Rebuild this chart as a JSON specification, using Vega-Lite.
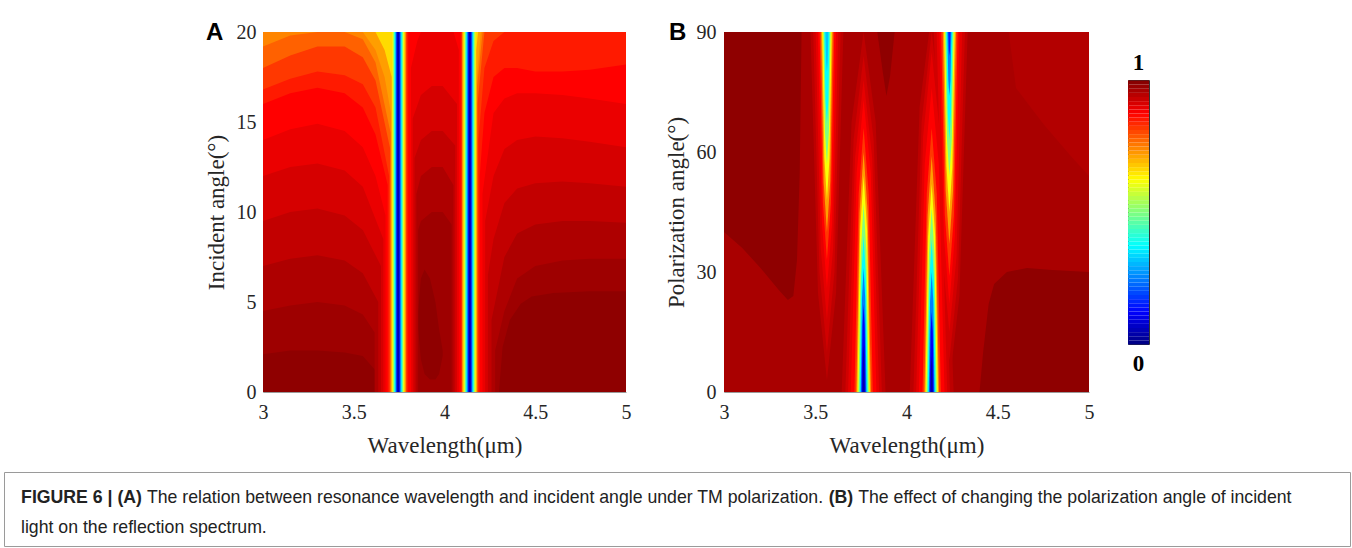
{
"$schema":"https://vega.github.io/schema/vega-lite/v6.json",
"background":"white",
"padding":{"left":3,"top":21,"right":3,"bottom":2},
"config":{"view":{"stroke":null},"font":"Liberation Serif",
"axis":{"labelFont":"Liberation Serif","titleFont":"Liberation Serif","labelFontSize":20,"titleFontSize":23,"titleFontWeight":"normal","labelColor":"#262626","titleColor":"#262626","ticks":false,"grid":false,"domainColor":"#9a9a9a","domainWidth":1,"labelFlush":false,"labelOverlap":false,"zindex":1}},
"datasets":{
"A":[
{"g":"a00","v":0.985,"x":3,"y":0,"y2":20},{"g":"a00","v":0.985,"x":5,"y":0,"y2":20},
{"g":"a01","v":0.97,"x":3,"y":2.1,"y2":20},{"g":"a01","v":0.97,"x":3.15,"y":2.3,"y2":20},{"g":"a01","v":0.97,"x":3.3,"y":2.3,"y2":20},{"g":"a01","v":0.97,"x":3.45,"y":2.2,"y2":20},{"g":"a01","v":0.97,"x":3.55,"y":2,"y2":20},{"g":"a01","v":0.97,"x":3.62,"y":1.2,"y2":20},{"g":"a01","v":0.97,"x":3.68,"y":0.3,"y2":20},{"g":"a01","v":0.97,"x":3.7,"y":0,"y2":20},{"g":"a01","v":0.97,"x":4.3,"y":0,"y2":20},{"g":"a01","v":0.97,"x":4.32,"y":2.5,"y2":20},{"g":"a01","v":0.97,"x":4.36,"y":4,"y2":20},{"g":"a01","v":0.97,"x":4.42,"y":4.9,"y2":20},{"g":"a01","v":0.97,"x":4.48,"y":5.3,"y2":20},{"g":"a01","v":0.97,"x":4.6,"y":5.5,"y2":20},{"g":"a01","v":0.97,"x":4.8,"y":5.6,"y2":20},{"g":"a01","v":0.97,"x":5,"y":5.6,"y2":20},
{"g":"a02","v":0.985,"x":3.855,"y":3.5,"y2":4.5},{"g":"a02","v":0.985,"x":3.87,"y":1.8,"y2":6.3},{"g":"a02","v":0.985,"x":3.89,"y":1,"y2":6.8},{"g":"a02","v":0.985,"x":3.92,"y":0.7,"y2":6.3},{"g":"a02","v":0.985,"x":3.95,"y":0.7,"y2":5},{"g":"a02","v":0.985,"x":3.97,"y":1,"y2":3.5},{"g":"a02","v":0.985,"x":3.99,"y":2,"y2":2.3},
{"g":"a03","v":0.955,"x":3,"y":4.5,"y2":20},{"g":"a03","v":0.955,"x":3.15,"y":4.8,"y2":20},{"g":"a03","v":0.955,"x":3.3,"y":5,"y2":20},{"g":"a03","v":0.955,"x":3.45,"y":4.8,"y2":20},{"g":"a03","v":0.955,"x":3.55,"y":4.3,"y2":20},{"g":"a03","v":0.955,"x":3.615,"y":3.3,"y2":20},{"g":"a03","v":0.955,"x":3.615,"y":0,"y2":20},{"g":"a03","v":0.955,"x":3.855,"y":0,"y2":20},{"g":"a03","v":0.955,"x":3.855,"y":9,"y2":20},{"g":"a03","v":0.955,"x":3.87,"y":9.5,"y2":20},{"g":"a03","v":0.955,"x":3.93,"y":10,"y2":20},{"g":"a03","v":0.955,"x":3.99,"y":10,"y2":20},{"g":"a03","v":0.955,"x":4.039,"y":9.3,"y2":20},{"g":"a03","v":0.955,"x":4.039,"y":0,"y2":20},{"g":"a03","v":0.955,"x":4.279,"y":0,"y2":20},{"g":"a03","v":0.955,"x":4.279,"y":2.3,"y2":20},{"g":"a03","v":0.955,"x":4.33,"y":4.5,"y2":20},{"g":"a03","v":0.955,"x":4.4,"y":6.3,"y2":20},{"g":"a03","v":0.955,"x":4.5,"y":7,"y2":20},{"g":"a03","v":0.955,"x":4.65,"y":7.3,"y2":20},{"g":"a03","v":0.955,"x":4.8,"y":7.4,"y2":20},{"g":"a03","v":0.955,"x":5,"y":7.4,"y2":20},
{"g":"a04","v":0.935,"x":3,"y":7,"y2":20},{"g":"a04","v":0.935,"x":3.15,"y":7.4,"y2":20},{"g":"a04","v":0.935,"x":3.3,"y":7.6,"y2":20},{"g":"a04","v":0.935,"x":3.45,"y":7.3,"y2":20},{"g":"a04","v":0.935,"x":3.55,"y":6.6,"y2":20},{"g":"a04","v":0.935,"x":3.635,"y":5,"y2":20},{"g":"a04","v":0.935,"x":3.635,"y":0,"y2":20},{"g":"a04","v":0.935,"x":3.845,"y":0,"y2":20},{"g":"a04","v":0.935,"x":3.845,"y":11,"y2":20},{"g":"a04","v":0.935,"x":3.87,"y":12,"y2":20},{"g":"a04","v":0.935,"x":3.93,"y":12.5,"y2":20},{"g":"a04","v":0.935,"x":3.99,"y":12.5,"y2":20},{"g":"a04","v":0.935,"x":4.049,"y":11.5,"y2":20},{"g":"a04","v":0.935,"x":4.049,"y":0,"y2":20},{"g":"a04","v":0.935,"x":4.259,"y":0,"y2":20},{"g":"a04","v":0.935,"x":4.259,"y":4,"y2":20},{"g":"a04","v":0.935,"x":4.33,"y":7.5,"y2":20},{"g":"a04","v":0.935,"x":4.4,"y":8.8,"y2":20},{"g":"a04","v":0.935,"x":4.5,"y":9.3,"y2":20},{"g":"a04","v":0.935,"x":4.65,"y":9.5,"y2":20},{"g":"a04","v":0.935,"x":4.8,"y":9.5,"y2":20},{"g":"a04","v":0.935,"x":5,"y":9.4,"y2":20},
{"g":"a05","v":0.915,"x":3,"y":9.5,"y2":20},{"g":"a05","v":0.915,"x":3.15,"y":10,"y2":20},{"g":"a05","v":0.915,"x":3.3,"y":10.2,"y2":20},{"g":"a05","v":0.915,"x":3.45,"y":9.8,"y2":20},{"g":"a05","v":0.915,"x":3.55,"y":9,"y2":20},{"g":"a05","v":0.915,"x":3.65,"y":7,"y2":20},{"g":"a05","v":0.915,"x":3.65,"y":0,"y2":20},{"g":"a05","v":0.915,"x":3.835,"y":0,"y2":20},{"g":"a05","v":0.915,"x":3.835,"y":13,"y2":20},{"g":"a05","v":0.915,"x":3.87,"y":14,"y2":20},{"g":"a05","v":0.915,"x":3.93,"y":14.5,"y2":20},{"g":"a05","v":0.915,"x":3.99,"y":14.5,"y2":20},{"g":"a05","v":0.915,"x":4.059,"y":13.7,"y2":20},{"g":"a05","v":0.915,"x":4.059,"y":0,"y2":20},{"g":"a05","v":0.915,"x":4.239,"y":0,"y2":20},{"g":"a05","v":0.915,"x":4.239,"y":6.5,"y2":20},{"g":"a05","v":0.915,"x":4.27,"y":8.5,"y2":20},{"g":"a05","v":0.915,"x":4.33,"y":10.5,"y2":20},{"g":"a05","v":0.915,"x":4.4,"y":11.3,"y2":20},{"g":"a05","v":0.915,"x":4.5,"y":11.6,"y2":20},{"g":"a05","v":0.915,"x":4.65,"y":11.7,"y2":20},{"g":"a05","v":0.915,"x":4.8,"y":11.6,"y2":20},{"g":"a05","v":0.915,"x":5,"y":11.4,"y2":20},
{"g":"a06","v":0.895,"x":3,"y":12,"y2":20},{"g":"a06","v":0.895,"x":3.15,"y":12.5,"y2":20},{"g":"a06","v":0.895,"x":3.3,"y":12.7,"y2":20},{"g":"a06","v":0.895,"x":3.45,"y":12.3,"y2":20},{"g":"a06","v":0.895,"x":3.55,"y":11.4,"y2":20},{"g":"a06","v":0.895,"x":3.663,"y":8.5,"y2":20},{"g":"a06","v":0.895,"x":3.663,"y":0,"y2":20},{"g":"a06","v":0.895,"x":3.825,"y":0,"y2":20},{"g":"a06","v":0.895,"x":3.825,"y":15.2,"y2":20},{"g":"a06","v":0.895,"x":3.87,"y":16.5,"y2":20},{"g":"a06","v":0.895,"x":3.93,"y":17,"y2":20},{"g":"a06","v":0.895,"x":3.99,"y":17,"y2":20},{"g":"a06","v":0.895,"x":4.069,"y":16,"y2":20},{"g":"a06","v":0.895,"x":4.069,"y":0,"y2":20},{"g":"a06","v":0.895,"x":4.224,"y":0,"y2":20},{"g":"a06","v":0.895,"x":4.224,"y":9.5,"y2":20},{"g":"a06","v":0.895,"x":4.27,"y":12,"y2":20},{"g":"a06","v":0.895,"x":4.33,"y":13.5,"y2":20},{"g":"a06","v":0.895,"x":4.4,"y":14,"y2":20},{"g":"a06","v":0.895,"x":4.5,"y":14.2,"y2":20},{"g":"a06","v":0.895,"x":4.65,"y":14.1,"y2":20},{"g":"a06","v":0.895,"x":4.8,"y":13.9,"y2":20},{"g":"a06","v":0.895,"x":5,"y":13.6,"y2":20},
{"g":"a07","v":0.875,"x":3,"y":14,"y2":20},{"g":"a07","v":0.875,"x":3.15,"y":14.6,"y2":20},{"g":"a07","v":0.875,"x":3.3,"y":14.9,"y2":20},{"g":"a07","v":0.875,"x":3.45,"y":14.5,"y2":20},{"g":"a07","v":0.875,"x":3.55,"y":13.6,"y2":20},{"g":"a07","v":0.875,"x":3.62,"y":12,"y2":20},{"g":"a07","v":0.875,"x":3.675,"y":9.8,"y2":20},{"g":"a07","v":0.875,"x":3.675,"y":0,"y2":20},{"g":"a07","v":0.875,"x":3.815,"y":0,"y2":20},{"g":"a07","v":0.875,"x":3.815,"y":18,"y2":20},{"g":"a07","v":0.875,"x":3.85,"y":19.5,"y2":20},{"g":"a07","v":0.875,"x":3.87,"y":20,"y2":20},{"g":"a07","v":0.875,"x":4.05,"y":20,"y2":20},{"g":"a07","v":0.875,"x":4.079,"y":19,"y2":20},{"g":"a07","v":0.875,"x":4.079,"y":0,"y2":20},{"g":"a07","v":0.875,"x":4.209,"y":0,"y2":20},{"g":"a07","v":0.875,"x":4.209,"y":11,"y2":20},{"g":"a07","v":0.875,"x":4.27,"y":15.5,"y2":20},{"g":"a07","v":0.875,"x":4.33,"y":16.3,"y2":20},{"g":"a07","v":0.875,"x":4.4,"y":16.6,"y2":20},{"g":"a07","v":0.875,"x":4.5,"y":16.6,"y2":20},{"g":"a07","v":0.875,"x":4.65,"y":16.5,"y2":20},{"g":"a07","v":0.875,"x":4.8,"y":16.3,"y2":20},{"g":"a07","v":0.875,"x":5,"y":16,"y2":20},
{"g":"a08","v":0.85,"x":3,"y":16,"y2":20},{"g":"a08","v":0.85,"x":3.15,"y":16.6,"y2":20},{"g":"a08","v":0.85,"x":3.3,"y":16.9,"y2":20},{"g":"a08","v":0.85,"x":3.45,"y":16.6,"y2":20},{"g":"a08","v":0.85,"x":3.55,"y":15.8,"y2":20},{"g":"a08","v":0.85,"x":3.62,"y":14.3,"y2":20},{"g":"a08","v":0.85,"x":3.687,"y":11.5,"y2":20},{"g":"a08","v":0.85,"x":3.687,"y":0,"y2":20},{"g":"a08","v":0.85,"x":3.8,"y":0,"y2":20},{"g":"a08","v":0.85,"x":3.8,"y":20,"y2":20},{"g":"a08","v":0.85,"x":4.089,"y":20,"y2":20},{"g":"a08","v":0.85,"x":4.089,"y":0,"y2":20},{"g":"a08","v":0.85,"x":4.194,"y":0,"y2":20},{"g":"a08","v":0.85,"x":4.194,"y":12,"y2":20},{"g":"a08","v":0.85,"x":4.22,"y":15.5,"y2":20},{"g":"a08","v":0.85,"x":4.27,"y":17.5,"y2":20},{"g":"a08","v":0.85,"x":4.33,"y":18,"y2":20},{"g":"a08","v":0.85,"x":4.4,"y":18,"y2":20},{"g":"a08","v":0.85,"x":4.5,"y":17.8,"y2":20},{"g":"a08","v":0.85,"x":4.65,"y":17.8,"y2":20},{"g":"a08","v":0.85,"x":4.8,"y":17.9,"y2":20},{"g":"a08","v":0.85,"x":5,"y":18.2,"y2":20},
{"g":"a09","v":0.82,"x":3,"y":16.8,"y2":20},{"g":"a09","v":0.82,"x":3.15,"y":17.4,"y2":20},{"g":"a09","v":0.82,"x":3.3,"y":17.8,"y2":20},{"g":"a09","v":0.82,"x":3.45,"y":17.6,"y2":20},{"g":"a09","v":0.82,"x":3.55,"y":17.1,"y2":20},{"g":"a09","v":0.82,"x":3.62,"y":15.8,"y2":20},{"g":"a09","v":0.82,"x":3.695,"y":12,"y2":20},{"g":"a09","v":0.82,"x":3.695,"y":0,"y2":20},{"g":"a09","v":0.82,"x":3.792,"y":0,"y2":20},{"g":"a09","v":0.82,"x":3.792,"y":20,"y2":20},{"g":"a09","v":0.82,"x":4.094,"y":20,"y2":20},{"g":"a09","v":0.82,"x":4.094,"y":0,"y2":20},{"g":"a09","v":0.82,"x":4.187,"y":0,"y2":20},{"g":"a09","v":0.82,"x":4.187,"y":14,"y2":20},{"g":"a09","v":0.82,"x":4.22,"y":18,"y2":20},{"g":"a09","v":0.82,"x":4.27,"y":19.5,"y2":20},{"g":"a09","v":0.82,"x":4.33,"y":20,"y2":20},{"g":"a09","v":0.82,"x":5,"y":20,"y2":20},
{"g":"a10","v":0.78,"x":3,"y":18,"y2":20},{"g":"a10","v":0.78,"x":3.15,"y":18.7,"y2":20},{"g":"a10","v":0.78,"x":3.3,"y":19.2,"y2":20},{"g":"a10","v":0.78,"x":3.45,"y":19.2,"y2":20},{"g":"a10","v":0.78,"x":3.55,"y":18.6,"y2":20},{"g":"a10","v":0.78,"x":3.62,"y":17.3,"y2":20},{"g":"a10","v":0.78,"x":3.701,"y":13.5,"y2":20},{"g":"a10","v":0.78,"x":3.701,"y":0,"y2":20},{"g":"a10","v":0.78,"x":3.789,"y":0,"y2":20},{"g":"a10","v":0.78,"x":3.789,"y":20,"y2":20},{"g":"a10","v":0.78,"x":4.096,"y":20,"y2":20},{"g":"a10","v":0.78,"x":4.096,"y":0,"y2":20},{"g":"a10","v":0.78,"x":4.182,"y":0,"y2":20},{"g":"a10","v":0.78,"x":4.182,"y":16,"y2":20},{"g":"a10","v":0.78,"x":4.22,"y":20,"y2":20},{"g":"a10","v":0.78,"x":5,"y":20,"y2":20},
{"g":"a10b","v":0.745,"x":3,"y":19.2,"y2":20},{"g":"a10b","v":0.745,"x":3.15,"y":19.8,"y2":20},{"g":"a10b","v":0.745,"x":3.3,"y":20,"y2":20},{"g":"a10b","v":0.745,"x":3.45,"y":20,"y2":20},{"g":"a10b","v":0.745,"x":3.55,"y":19.6,"y2":20},{"g":"a10b","v":0.745,"x":3.62,"y":18.3,"y2":20},{"g":"a10b","v":0.745,"x":3.703,"y":14.4,"y2":20},{"g":"a10b","v":0.745,"x":3.703,"y":0,"y2":20},{"g":"a10b","v":0.745,"x":3.787,"y":0,"y2":20},{"g":"a10b","v":0.745,"x":3.787,"y":20,"y2":20},{"g":"a10b","v":0.745,"x":4.098,"y":20,"y2":20},{"g":"a10b","v":0.745,"x":4.098,"y":0,"y2":20},{"g":"a10b","v":0.745,"x":4.18,"y":0,"y2":20},{"g":"a10b","v":0.745,"x":4.18,"y":17,"y2":20},{"g":"a10b","v":0.745,"x":4.21,"y":20,"y2":20},{"g":"a10b","v":0.745,"x":5,"y":20,"y2":20},
{"g":"a11","v":0.72,"x":3,"y":20,"y2":20},{"g":"a11","v":0.72,"x":3.55,"y":20,"y2":20},{"g":"a11","v":0.72,"x":3.62,"y":19,"y2":20},{"g":"a11","v":0.72,"x":3.67,"y":17.5,"y2":20},{"g":"a11","v":0.72,"x":3.705,"y":15.5,"y2":20},{"g":"a11","v":0.72,"x":3.705,"y":0,"y2":20},{"g":"a11","v":0.72,"x":3.785,"y":0,"y2":20},{"g":"a11","v":0.72,"x":3.785,"y":20,"y2":20},{"g":"a11","v":0.72,"x":4.099,"y":20,"y2":20},{"g":"a11","v":0.72,"x":4.099,"y":0,"y2":20},{"g":"a11","v":0.72,"x":4.179,"y":0,"y2":20},{"g":"a11","v":0.72,"x":4.179,"y":17.5,"y2":20},{"g":"a11","v":0.72,"x":4.2,"y":20,"y2":20},{"g":"a11","v":0.72,"x":5,"y":20,"y2":20},
{"g":"a12","v":0.66,"x":3,"y":20,"y2":20},{"g":"a12","v":0.66,"x":3.62,"y":20,"y2":20},{"g":"a12","v":0.66,"x":3.67,"y":19,"y2":20},{"g":"a12","v":0.66,"x":3.709,"y":17.5,"y2":20},{"g":"a12","v":0.66,"x":3.709,"y":0,"y2":20},{"g":"a12","v":0.66,"x":3.781,"y":0,"y2":20},{"g":"a12","v":0.66,"x":3.781,"y":20,"y2":20},{"g":"a12","v":0.66,"x":4.103,"y":20,"y2":20},{"g":"a12","v":0.66,"x":4.103,"y":0,"y2":20},{"g":"a12","v":0.66,"x":4.175,"y":0,"y2":20},{"g":"a12","v":0.66,"x":4.175,"y":19,"y2":20},{"g":"a12","v":0.66,"x":4.185,"y":20,"y2":20},{"g":"a12","v":0.66,"x":5,"y":20,"y2":20},
{"g":"a13","v":0.6,"x":3.713,"y":0,"y2":20},{"g":"a13","v":0.6,"x":3.777,"y":0,"y2":20},
{"g":"a14","v":0.6,"x":4.107,"y":0,"y2":20},{"g":"a14","v":0.6,"x":4.171,"y":0,"y2":20},
{"g":"a15","v":0.5,"x":3.718,"y":0,"y2":20},{"g":"a15","v":0.5,"x":3.772,"y":0,"y2":20},
{"g":"a16","v":0.5,"x":4.112,"y":0,"y2":20},{"g":"a16","v":0.5,"x":4.166,"y":0,"y2":20},
{"g":"a17","v":0.4,"x":3.723,"y":0,"y2":20},{"g":"a17","v":0.4,"x":3.767,"y":0,"y2":20},
{"g":"a18","v":0.4,"x":4.117,"y":0,"y2":20},{"g":"a18","v":0.4,"x":4.161,"y":0,"y2":20},
{"g":"a19","v":0.3,"x":3.728,"y":0,"y2":20},{"g":"a19","v":0.3,"x":3.762,"y":0,"y2":20},
{"g":"a20","v":0.3,"x":4.122,"y":0,"y2":20},{"g":"a20","v":0.3,"x":4.156,"y":0,"y2":20},
{"g":"a21","v":0.2,"x":3.733,"y":0,"y2":20},{"g":"a21","v":0.2,"x":3.757,"y":0,"y2":20},
{"g":"a22","v":0.2,"x":4.127,"y":0,"y2":20},{"g":"a22","v":0.2,"x":4.151,"y":0,"y2":20},
{"g":"a23","v":0.1,"x":3.737,"y":0,"y2":20},{"g":"a23","v":0.1,"x":3.753,"y":0,"y2":20},
{"g":"a24","v":0.1,"x":4.131,"y":0,"y2":20},{"g":"a24","v":0.1,"x":4.147,"y":0,"y2":20},
{"g":"a25","v":0.04,"x":3.741,"y":0,"y2":20},{"g":"a25","v":0.04,"x":3.749,"y":0,"y2":20},
{"g":"a26","v":0.04,"x":4.135,"y":0,"y2":20},{"g":"a26","v":0.04,"x":4.143,"y":0,"y2":20}
],
"B":[
{"g":"b00","v":0.96,"x":3,"y":0,"y2":90},{"g":"b00","v":0.96,"x":5,"y":0,"y2":90},
{"g":"b01","v":0.985,"x":3,"y":40,"y2":90},{"g":"b01","v":0.985,"x":3.1,"y":36,"y2":90},{"g":"b01","v":0.985,"x":3.2,"y":31,"y2":90},{"g":"b01","v":0.985,"x":3.3,"y":25.5,"y2":90},{"g":"b01","v":0.985,"x":3.35,"y":23,"y2":90},{"g":"b01","v":0.985,"x":3.38,"y":24,"y2":90},{"g":"b01","v":0.985,"x":3.4,"y":33,"y2":90},{"g":"b01","v":0.985,"x":3.415,"y":55,"y2":90},{"g":"b01","v":0.985,"x":3.425,"y":90,"y2":90},
{"g":"b02","v":0.985,"x":4.4,"y":0,"y2":0},{"g":"b02","v":0.985,"x":4.42,"y":0,"y2":10},{"g":"b02","v":0.985,"x":4.45,"y":0,"y2":22},{"g":"b02","v":0.985,"x":4.48,"y":0,"y2":27},{"g":"b02","v":0.985,"x":4.55,"y":0,"y2":30},{"g":"b02","v":0.985,"x":4.66,"y":0,"y2":31},{"g":"b02","v":0.985,"x":4.8,"y":0,"y2":30.5},{"g":"b02","v":0.985,"x":5,"y":0,"y2":30},
{"g":"b03","v":0.985,"x":3.84,"y":90,"y2":90},{"g":"b03","v":0.985,"x":3.87,"y":80,"y2":90},{"g":"b03","v":0.985,"x":3.89,"y":74,"y2":90},{"g":"b03","v":0.985,"x":3.91,"y":79,"y2":90},{"g":"b03","v":0.985,"x":3.935,"y":90,"y2":90},
{"g":"b04","v":0.95,"x":4.56,"y":90,"y2":90},{"g":"b04","v":0.95,"x":4.6,"y":76,"y2":90},{"g":"b04","v":0.95,"x":4.75,"y":67,"y2":90},{"g":"b04","v":0.95,"x":4.9,"y":59,"y2":90},{"g":"b04","v":0.95,"x":5,"y":54,"y2":90},
{"g":"b05","v":0.94,"x":3.645,"y":0,"y2":0},{"g":"b05","v":0.94,"x":3.699,"y":0,"y2":67.5},{"g":"b05","v":0.94,"x":3.765,"y":0,"y2":90},{"g":"b05","v":0.94,"x":3.831,"y":0,"y2":67.5},{"g":"b05","v":0.94,"x":3.885,"y":0,"y2":0},
{"g":"b06","v":0.94,"x":3.474,"y":90,"y2":90},{"g":"b06","v":0.94,"x":3.515,"y":24.8,"y2":90},{"g":"b06","v":0.94,"x":3.564,"y":3,"y2":90},{"g":"b06","v":0.94,"x":3.614,"y":24.8,"y2":90},{"g":"b06","v":0.94,"x":3.654,"y":90,"y2":90},
{"g":"b07","v":0.94,"x":4.018,"y":0,"y2":0},{"g":"b07","v":0.94,"x":4.072,"y":0,"y2":71.3},{"g":"b07","v":0.94,"x":4.138,"y":0,"y2":95},{"g":"b07","v":0.94,"x":4.204,"y":0,"y2":71.3},{"g":"b07","v":0.94,"x":4.258,"y":0,"y2":0},
{"g":"b08","v":0.94,"x":4.135,"y":90,"y2":90},{"g":"b08","v":0.94,"x":4.18,"y":24,"y2":90},{"g":"b08","v":0.94,"x":4.235,"y":2,"y2":90},{"g":"b08","v":0.94,"x":4.29,"y":24,"y2":90},{"g":"b08","v":0.94,"x":4.335,"y":90,"y2":90},
{"g":"b09","v":0.92,"x":3.665,"y":0,"y2":0},{"g":"b09","v":0.92,"x":3.71,"y":0,"y2":63},{"g":"b09","v":0.92,"x":3.765,"y":0,"y2":84},{"g":"b09","v":0.92,"x":3.82,"y":0,"y2":63},{"g":"b09","v":0.92,"x":3.865,"y":0,"y2":0},
{"g":"b10","v":0.92,"x":3.489,"y":90,"y2":90},{"g":"b10","v":0.92,"x":3.523,"y":30,"y2":90},{"g":"b10","v":0.92,"x":3.564,"y":10,"y2":90},{"g":"b10","v":0.92,"x":3.605,"y":30,"y2":90},{"g":"b10","v":0.92,"x":3.639,"y":90,"y2":90},
{"g":"b11","v":0.92,"x":4.038,"y":0,"y2":0},{"g":"b11","v":0.92,"x":4.083,"y":0,"y2":67.5},{"g":"b11","v":0.92,"x":4.138,"y":0,"y2":90},{"g":"b11","v":0.92,"x":4.193,"y":0,"y2":67.5},{"g":"b11","v":0.92,"x":4.238,"y":0,"y2":0},
{"g":"b12","v":0.92,"x":4.15,"y":90,"y2":90},{"g":"b12","v":0.92,"x":4.188,"y":28.5,"y2":90},{"g":"b12","v":0.92,"x":4.235,"y":8,"y2":90},{"g":"b12","v":0.92,"x":4.282,"y":28.5,"y2":90},{"g":"b12","v":0.92,"x":4.32,"y":90,"y2":90},
{"g":"b13","v":0.9,"x":3.68,"y":0,"y2":0},{"g":"b13","v":0.9,"x":3.718,"y":0,"y2":58.5},{"g":"b13","v":0.9,"x":3.765,"y":0,"y2":78},{"g":"b13","v":0.9,"x":3.812,"y":0,"y2":58.5},{"g":"b13","v":0.9,"x":3.85,"y":0,"y2":0},
{"g":"b14","v":0.9,"x":3.502,"y":90,"y2":90},{"g":"b14","v":0.9,"x":3.53,"y":36,"y2":90},{"g":"b14","v":0.9,"x":3.564,"y":18,"y2":90},{"g":"b14","v":0.9,"x":3.598,"y":36,"y2":90},{"g":"b14","v":0.9,"x":3.626,"y":90,"y2":90},
{"g":"b15","v":0.9,"x":4.053,"y":0,"y2":0},{"g":"b15","v":0.9,"x":4.091,"y":0,"y2":63.8},{"g":"b15","v":0.9,"x":4.138,"y":0,"y2":85},{"g":"b15","v":0.9,"x":4.185,"y":0,"y2":63.8},{"g":"b15","v":0.9,"x":4.223,"y":0,"y2":0},
{"g":"b16","v":0.9,"x":4.165,"y":90,"y2":90},{"g":"b16","v":0.9,"x":4.197,"y":33.8,"y2":90},{"g":"b16","v":0.9,"x":4.235,"y":15,"y2":90},{"g":"b16","v":0.9,"x":4.274,"y":33.8,"y2":90},{"g":"b16","v":0.9,"x":4.305,"y":90,"y2":90},
{"g":"b17","v":0.875,"x":3.695,"y":0,"y2":0},{"g":"b17","v":0.875,"x":3.727,"y":0,"y2":54.8},{"g":"b17","v":0.875,"x":3.765,"y":0,"y2":73},{"g":"b17","v":0.875,"x":3.804,"y":0,"y2":54.8},{"g":"b17","v":0.875,"x":3.835,"y":0,"y2":0},
{"g":"b18","v":0.875,"x":3.514,"y":90,"y2":90},{"g":"b18","v":0.875,"x":3.537,"y":42,"y2":90},{"g":"b18","v":0.875,"x":3.564,"y":26,"y2":90},{"g":"b18","v":0.875,"x":3.592,"y":42,"y2":90},{"g":"b18","v":0.875,"x":3.614,"y":90,"y2":90},
{"g":"b19","v":0.875,"x":4.068,"y":0,"y2":0},{"g":"b19","v":0.875,"x":4.1,"y":0,"y2":57},{"g":"b19","v":0.875,"x":4.138,"y":0,"y2":76},{"g":"b19","v":0.875,"x":4.177,"y":0,"y2":57},{"g":"b19","v":0.875,"x":4.208,"y":0,"y2":0},
{"g":"b20","v":0.875,"x":4.18,"y":90,"y2":90},{"g":"b20","v":0.875,"x":4.205,"y":39,"y2":90},{"g":"b20","v":0.875,"x":4.235,"y":22,"y2":90},{"g":"b20","v":0.875,"x":4.265,"y":39,"y2":90},{"g":"b20","v":0.875,"x":4.29,"y":90,"y2":90},
{"g":"b21","v":0.82,"x":3.715,"y":0,"y2":0},{"g":"b21","v":0.82,"x":3.738,"y":0,"y2":49.5},{"g":"b21","v":0.82,"x":3.765,"y":0,"y2":66},{"g":"b21","v":0.82,"x":3.793,"y":0,"y2":49.5},{"g":"b21","v":0.82,"x":3.815,"y":0,"y2":0},
{"g":"b22","v":0.82,"x":3.524,"y":90,"y2":90},{"g":"b22","v":0.82,"x":3.542,"y":47.3,"y2":90},{"g":"b22","v":0.82,"x":3.564,"y":33,"y2":90},{"g":"b22","v":0.82,"x":3.586,"y":47.3,"y2":90},{"g":"b22","v":0.82,"x":3.604,"y":90,"y2":90},
{"g":"b23","v":0.82,"x":4.088,"y":0,"y2":0},{"g":"b23","v":0.82,"x":4.111,"y":0,"y2":49.5},{"g":"b23","v":0.82,"x":4.138,"y":0,"y2":66},{"g":"b23","v":0.82,"x":4.166,"y":0,"y2":49.5},{"g":"b23","v":0.82,"x":4.188,"y":0,"y2":0},
{"g":"b24","v":0.82,"x":4.19,"y":90,"y2":90},{"g":"b24","v":0.82,"x":4.21,"y":44.3,"y2":90},{"g":"b24","v":0.82,"x":4.235,"y":29,"y2":90},{"g":"b24","v":0.82,"x":4.26,"y":44.3,"y2":90},{"g":"b24","v":0.82,"x":4.28,"y":90,"y2":90},
{"g":"b25","v":0.72,"x":3.725,"y":0,"y2":0},{"g":"b25","v":0.72,"x":3.743,"y":0,"y2":45},{"g":"b25","v":0.72,"x":3.765,"y":0,"y2":60},{"g":"b25","v":0.72,"x":3.787,"y":0,"y2":45},{"g":"b25","v":0.72,"x":3.805,"y":0,"y2":0},
{"g":"b26","v":0.72,"x":3.532,"y":90,"y2":90},{"g":"b26","v":0.72,"x":3.546,"y":52.5,"y2":90},{"g":"b26","v":0.72,"x":3.564,"y":40,"y2":90},{"g":"b26","v":0.72,"x":3.582,"y":52.5,"y2":90},{"g":"b26","v":0.72,"x":3.596,"y":90,"y2":90},
{"g":"b27","v":0.72,"x":4.098,"y":0,"y2":0},{"g":"b27","v":0.72,"x":4.116,"y":0,"y2":44.3},{"g":"b27","v":0.72,"x":4.138,"y":0,"y2":59},{"g":"b27","v":0.72,"x":4.16,"y":0,"y2":44.3},{"g":"b27","v":0.72,"x":4.178,"y":0,"y2":0},
{"g":"b28","v":0.72,"x":4.199,"y":90,"y2":90},{"g":"b28","v":0.72,"x":4.215,"y":50.3,"y2":90},{"g":"b28","v":0.72,"x":4.235,"y":37,"y2":90},{"g":"b28","v":0.72,"x":4.255,"y":50.3,"y2":90},{"g":"b28","v":0.72,"x":4.271,"y":90,"y2":90},
{"g":"b29","v":0.62,"x":3.731,"y":0,"y2":0},{"g":"b29","v":0.62,"x":3.746,"y":0,"y2":40.5},{"g":"b29","v":0.62,"x":3.765,"y":0,"y2":54},{"g":"b29","v":0.62,"x":3.784,"y":0,"y2":40.5},{"g":"b29","v":0.62,"x":3.799,"y":0,"y2":0},
{"g":"b30","v":0.62,"x":3.538,"y":90,"y2":90},{"g":"b30","v":0.62,"x":3.55,"y":58.5,"y2":90},{"g":"b30","v":0.62,"x":3.564,"y":48,"y2":90},{"g":"b30","v":0.62,"x":3.578,"y":58.5,"y2":90},{"g":"b30","v":0.62,"x":3.59,"y":90,"y2":90},
{"g":"b31","v":0.62,"x":4.104,"y":0,"y2":0},{"g":"b31","v":0.62,"x":4.119,"y":0,"y2":39},{"g":"b31","v":0.62,"x":4.138,"y":0,"y2":52},{"g":"b31","v":0.62,"x":4.157,"y":0,"y2":39},{"g":"b31","v":0.62,"x":4.172,"y":0,"y2":0},
{"g":"b32","v":0.62,"x":4.206,"y":90,"y2":90},{"g":"b32","v":0.62,"x":4.219,"y":56.3,"y2":90},{"g":"b32","v":0.62,"x":4.235,"y":45,"y2":90},{"g":"b32","v":0.62,"x":4.251,"y":56.3,"y2":90},{"g":"b32","v":0.62,"x":4.264,"y":90,"y2":90},
{"g":"b33","v":0.5,"x":3.737,"y":0,"y2":0},{"g":"b33","v":0.5,"x":3.75,"y":0,"y2":35.3},{"g":"b33","v":0.5,"x":3.765,"y":0,"y2":47},{"g":"b33","v":0.5,"x":3.78,"y":0,"y2":35.3},{"g":"b33","v":0.5,"x":3.793,"y":0,"y2":0},
{"g":"b34","v":0.5,"x":3.544,"y":90,"y2":90},{"g":"b34","v":0.5,"x":3.553,"y":65.3,"y2":90},{"g":"b34","v":0.5,"x":3.564,"y":57,"y2":90},{"g":"b34","v":0.5,"x":3.575,"y":65.3,"y2":90},{"g":"b34","v":0.5,"x":3.584,"y":90,"y2":90},
{"g":"b35","v":0.5,"x":4.11,"y":0,"y2":0},{"g":"b35","v":0.5,"x":4.123,"y":0,"y2":34.5},{"g":"b35","v":0.5,"x":4.138,"y":0,"y2":46},{"g":"b35","v":0.5,"x":4.153,"y":0,"y2":34.5},{"g":"b35","v":0.5,"x":4.166,"y":0,"y2":0},
{"g":"b36","v":0.5,"x":4.212,"y":90,"y2":90},{"g":"b36","v":0.5,"x":4.222,"y":63,"y2":90},{"g":"b36","v":0.5,"x":4.235,"y":54,"y2":90},{"g":"b36","v":0.5,"x":4.248,"y":63,"y2":90},{"g":"b36","v":0.5,"x":4.258,"y":90,"y2":90},
{"g":"b37","v":0.38,"x":3.743,"y":0,"y2":0},{"g":"b37","v":0.38,"x":3.753,"y":0,"y2":29.3},{"g":"b37","v":0.38,"x":3.765,"y":0,"y2":39},{"g":"b37","v":0.38,"x":3.777,"y":0,"y2":29.3},{"g":"b37","v":0.38,"x":3.787,"y":0,"y2":0},
{"g":"b38","v":0.38,"x":3.55,"y":90,"y2":90},{"g":"b38","v":0.38,"x":3.556,"y":72.8,"y2":90},{"g":"b38","v":0.38,"x":3.564,"y":67,"y2":90},{"g":"b38","v":0.38,"x":3.572,"y":72.8,"y2":90},{"g":"b38","v":0.38,"x":3.578,"y":90,"y2":90},
{"g":"b39","v":0.38,"x":4.116,"y":0,"y2":0},{"g":"b39","v":0.38,"x":4.126,"y":0,"y2":28.5},{"g":"b39","v":0.38,"x":4.138,"y":0,"y2":38},{"g":"b39","v":0.38,"x":4.15,"y":0,"y2":28.5},{"g":"b39","v":0.38,"x":4.16,"y":0,"y2":0},
{"g":"b40","v":0.38,"x":4.218,"y":90,"y2":90},{"g":"b40","v":0.38,"x":4.226,"y":69.8,"y2":90},{"g":"b40","v":0.38,"x":4.235,"y":63,"y2":90},{"g":"b40","v":0.38,"x":4.244,"y":69.8,"y2":90},{"g":"b40","v":0.38,"x":4.252,"y":90,"y2":90},
{"g":"b41","v":0.32,"x":3.556,"y":90,"y2":90},{"g":"b41","v":0.32,"x":3.56,"y":82.5,"y2":90},{"g":"b41","v":0.32,"x":3.564,"y":80,"y2":90},{"g":"b41","v":0.32,"x":3.568,"y":82.5,"y2":90},{"g":"b41","v":0.32,"x":3.572,"y":90,"y2":90},
{"g":"b42","v":0.25,"x":3.749,"y":0,"y2":0},{"g":"b42","v":0.25,"x":3.756,"y":0,"y2":23.3},{"g":"b42","v":0.25,"x":3.765,"y":0,"y2":31},{"g":"b42","v":0.25,"x":3.774,"y":0,"y2":23.3},{"g":"b42","v":0.25,"x":3.781,"y":0,"y2":0},
{"g":"b43","v":0.25,"x":4.122,"y":0,"y2":0},{"g":"b43","v":0.25,"x":4.129,"y":0,"y2":22.5},{"g":"b43","v":0.25,"x":4.138,"y":0,"y2":30},{"g":"b43","v":0.25,"x":4.147,"y":0,"y2":22.5},{"g":"b43","v":0.25,"x":4.154,"y":0,"y2":0},
{"g":"b44","v":0.25,"x":4.224,"y":90,"y2":90},{"g":"b44","v":0.25,"x":4.229,"y":78,"y2":90},{"g":"b44","v":0.25,"x":4.235,"y":74,"y2":90},{"g":"b44","v":0.25,"x":4.241,"y":78,"y2":90},{"g":"b44","v":0.25,"x":4.246,"y":90,"y2":90},
{"g":"b45","v":0.15,"x":4.229,"y":90,"y2":90},{"g":"b45","v":0.15,"x":4.232,"y":85.5,"y2":90},{"g":"b45","v":0.15,"x":4.235,"y":84,"y2":90},{"g":"b45","v":0.15,"x":4.238,"y":85.5,"y2":90},{"g":"b45","v":0.15,"x":4.241,"y":90,"y2":90},
{"g":"b46","v":0.12,"x":3.754,"y":0,"y2":0},{"g":"b46","v":0.12,"x":3.759,"y":0,"y2":16.5},{"g":"b46","v":0.12,"x":3.765,"y":0,"y2":22},{"g":"b46","v":0.12,"x":3.771,"y":0,"y2":16.5},{"g":"b46","v":0.12,"x":3.776,"y":0,"y2":0},
{"g":"b47","v":0.12,"x":4.127,"y":0,"y2":0},{"g":"b47","v":0.12,"x":4.132,"y":0,"y2":15},{"g":"b47","v":0.12,"x":4.138,"y":0,"y2":20},{"g":"b47","v":0.12,"x":4.144,"y":0,"y2":15},{"g":"b47","v":0.12,"x":4.149,"y":0,"y2":0},
{"g":"b48","v":0.04,"x":3.759,"y":0,"y2":0},{"g":"b48","v":0.04,"x":3.762,"y":0,"y2":9},{"g":"b48","v":0.04,"x":3.765,"y":0,"y2":12},{"g":"b48","v":0.04,"x":3.768,"y":0,"y2":9},{"g":"b48","v":0.04,"x":3.771,"y":0,"y2":0},
{"g":"b49","v":0.04,"x":4.132,"y":0,"y2":0},{"g":"b49","v":0.04,"x":4.135,"y":0,"y2":6.8},{"g":"b49","v":0.04,"x":4.138,"y":0,"y2":9},{"g":"b49","v":0.04,"x":4.141,"y":0,"y2":6.8},{"g":"b49","v":0.04,"x":4.144,"y":0,"y2":0}
],
"cb":[{"v":0.0078},{"v":0.0234},{"v":0.0391},{"v":0.0547},{"v":0.0703},{"v":0.0859},{"v":0.1016},{"v":0.1172},{"v":0.1328},{"v":0.1484},{"v":0.1641},{"v":0.1797},{"v":0.1953},{"v":0.2109},{"v":0.2266},{"v":0.2422},{"v":0.2578},{"v":0.2734},{"v":0.2891},{"v":0.3047},{"v":0.3203},{"v":0.3359},{"v":0.3516},{"v":0.3672},{"v":0.3828},{"v":0.3984},{"v":0.4141},{"v":0.4297},{"v":0.4453},{"v":0.4609},{"v":0.4766},{"v":0.4922},{"v":0.5078},{"v":0.5234},{"v":0.5391},{"v":0.5547},{"v":0.5703},{"v":0.5859},{"v":0.6016},{"v":0.6172},{"v":0.6328},{"v":0.6484},{"v":0.6641},{"v":0.6797},{"v":0.6953},{"v":0.7109},{"v":0.7266},{"v":0.7422},{"v":0.7578},{"v":0.7734},{"v":0.7891},{"v":0.8047},{"v":0.8203},{"v":0.8359},{"v":0.8516},{"v":0.8672},{"v":0.8828},{"v":0.8984},{"v":0.9141},{"v":0.9297},{"v":0.9453},{"v":0.9609},{"v":0.9766},{"v":0.9922}]
},
"bounds":"flush",
"spacing":440,
"vconcat":[
{"hconcat":[
{"width":259,"height":10,"data":{"values":[{}]},"mark":{"type":"text"},"encoding":{"text":{"value":""}}},
{"width":363,"height":360,"data":{"name":"A"},
"title":{"text":"A","font":"Liberation Sans","fontWeight":"bold","fontSize":24,"color":"#000","anchor":"start","frame":"group","orient":"top","dx":-57,"dy":24,"offset":-18,"baseline":"alphabetic"},
"mark":{"type":"area","clip":true,"opacity":1},
"encoding":{
"x":{"field":"x","type":"quantitative","scale":{"domain":[3,5],"nice":false,"zero":false},"axis":{"values":[3,3.5,4,4.5,5],"format":"~g","title":"Wavelength(μm)","labelPadding":10,"titlePadding":12}},
"y":{"field":"y","type":"quantitative","stack":null,"scale":{"domain":[0,20],"nice":false},"axis":{"values":[0,5,10,15,20],"title":"Incident angle(°)","labelPadding":7,"titlePadding":8}},
"y2":{"field":"y2"},
"detail":{"field":"g"},
"color":{"field":"v","type":"quantitative","legend":null,"scale":{"type":"linear","domain":[0,0.125,0.375,0.625,0.875,1],"range":["#000080","#0000ff","#00ffff","#ffff00","#ff0000","#800000"],"interpolate":"rgb","clamp":true,"zero":false,"nice":false}}}},
{"width":98,"height":10,"data":{"values":[{}]},"mark":{"type":"text"},"encoding":{"text":{"value":""}}},
{"width":365,"height":360,"data":{"name":"B"},
"title":{"text":"B","font":"Liberation Sans","fontWeight":"bold","fontSize":24,"color":"#000","anchor":"start","frame":"group","orient":"top","dx":-55,"dy":24,"offset":-18,"baseline":"alphabetic"},
"mark":{"type":"area","clip":true,"opacity":1},
"encoding":{
"x":{"field":"x","type":"quantitative","scale":{"domain":[3,5],"nice":false,"zero":false},"axis":{"values":[3,3.5,4,4.5,5],"format":"~g","title":"Wavelength(μm)","labelPadding":10,"titlePadding":12}},
"y":{"field":"y","type":"quantitative","stack":null,"scale":{"domain":[0,90],"nice":false},"axis":{"values":[0,30,60,90],"title":"Polarization angle(°)","labelPadding":8,"titlePadding":8}},
"y2":{"field":"y2"},
"detail":{"field":"g"},
"color":{"field":"v","type":"quantitative","legend":null,"scale":{"type":"linear","domain":[0,0.125,0.375,0.625,0.875,1],"range":["#000080","#0000ff","#00ffff","#ffff00","#ff0000","#800000"],"interpolate":"rgb","clamp":true,"zero":false,"nice":false}}}},
{"width":39,"height":10,"data":{"values":[{}]},"mark":{"type":"text"},"encoding":{"text":{"value":""}}},
{"width":21,"height":264,"view":{"stroke":"#333333","strokeWidth":1},
"layer":[
{"data":{"name":"cb"},"mark":{"type":"rect"},
"encoding":{"y":{"field":"v","type":"quantitative","bin":{"step":0.015625,"extent":[0,1]},"scale":{"domain":[0,1],"nice":false,"zero":false},"axis":{"orient":"right","values":[0.2,0.4,0.6,0.8],"labels":false,"domain":false,"ticks":true,"tickSize":-3,"tickColor":"#333333","title":null}},
"color":{"field":"v","type":"quantitative","legend":null,"scale":{"type":"linear","domain":[0,0.125,0.375,0.625,0.875,1],"range":["#000080","#0000ff","#00ffff","#ffff00","#ff0000","#800000"],"interpolate":"rgb","clamp":true,"zero":false,"nice":false}}}},
{"data":{"values":[{"t":"1"}]},"mark":{"type":"text","font":"Liberation Serif","fontWeight":"bold","fontSize":23,"baseline":"bottom","align":"center","dy":-5,"color":"#000"},
"encoding":{"text":{"field":"t"},"y":{"datum":1,"type":"quantitative"},"x":{"datum":0.5,"type":"quantitative","scale":{"domain":[0,1]},"axis":null}}},
{"data":{"values":[{"t":"0"}]},"mark":{"type":"text","font":"Liberation Serif","fontWeight":"bold","fontSize":23,"baseline":"top","align":"center","dy":9,"color":"#000"},
"encoding":{"text":{"field":"t"},"y":{"datum":0,"type":"quantitative"},"x":{"datum":0.5,"type":"quantitative","scale":{"domain":[0,1]},"axis":null}}}
]}
],"spacing":0,"bounds":"flush","center":true},
{"width":1346,"height":74,"view":{"stroke":"#9a9a9a","strokeWidth":1},
"layer":[
{"data":{"values":[{"t":"FIGURE 6 | (A)"}]},"mark":{"type":"text","font":"Liberation Sans","fontSize":17.7,"fontWeight":"bold","align":"right","baseline":"middle","color":"#222222"},"encoding":{"text":{"field":"t"},"x":{"value":138},"y":{"value":26}}},
{"data":{"values":[{"t":"The relation between resonance wavelength and incident angle under TM polarization."}]},"mark":{"type":"text","font":"Liberation Sans","fontSize":17.7,"align":"left","baseline":"middle","color":"#222222"},"encoding":{"text":{"field":"t"},"x":{"value":142.9},"y":{"value":26}}},
{"data":{"values":[{"t":"(B)"}]},"mark":{"type":"text","font":"Liberation Sans","fontSize":17.7,"fontWeight":"bold","align":"left","baseline":"middle","color":"#222222"},"encoding":{"text":{"field":"t"},"x":{"value":824.7},"y":{"value":26}}},
{"data":{"values":[{"t":"The effect of changing the polarization angle of incident"}]},"mark":{"type":"text","font":"Liberation Sans","fontSize":17.7,"align":"left","baseline":"middle","color":"#222222"},"encoding":{"text":{"field":"t"},"x":{"value":854.2},"y":{"value":26}}},
{"data":{"values":[{"t":"light on the reflection spectrum."}]},"mark":{"type":"text","font":"Liberation Sans","fontSize":17.7,"align":"left","baseline":"middle","color":"#222222"},"encoding":{"text":{"field":"t"},"x":{"value":17},"y":{"value":56}}}
]}
]
}
